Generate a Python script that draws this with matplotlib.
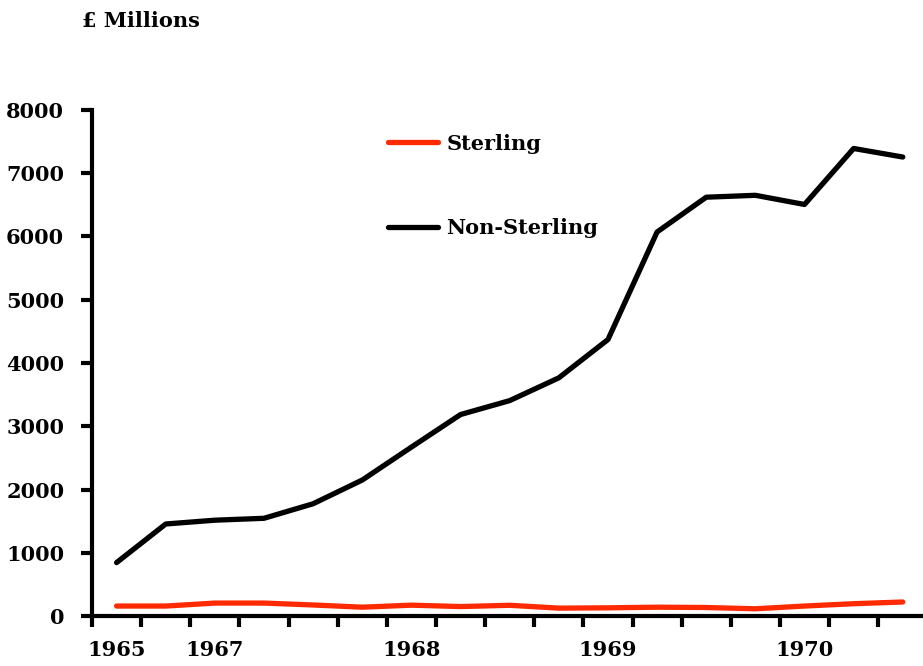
import numpy as np
import matplotlib.pyplot as plt

sterling = [158, 158, 205, 205, 175, 140, 172, 150, 170, 125, 130, 140, 135, 115, 158, 195, 222]
non_sterling = [845, 1455, 1515, 1545, 1775, 2150, 2670, 3185, 3405, 3765, 4370, 6070, 6620, 6650, 6505, 7390, 7255]
year_labels = ['1965', '1967', '1968', '1969', '1970']
year_pos = [0, 2, 6, 10, 14]

plt.rcParams['font.family'] = 'DejaVu Serif'
plt.rcParams['font.weight'] = 'bold'

fig = plt.figure(figsize=(9.23, 6.66), dpi=100)
ax = fig.add_axes([0.0997, 0.075, 0.905, 0.76])

x = np.arange(len(non_sterling))
ax.plot(x, sterling, color='#ff2a00', lw=3.8, solid_capstyle='round', label='Sterling')
ax.plot(x, non_sterling, color='black', lw=3.8, solid_capstyle='round', label='Non-Sterling')

ax.set_xlim(-0.5, 16.5)
ax.set_ylim(0, 8000)
ax.set_yticks(np.arange(0, 8001, 1000))

# ticks between quarters, year labels under the quarter
ax.set_xticks(np.arange(-0.5, 16, 1))
ax.set_xticklabels([])
ax.set_xticks(year_pos, minor=True)
ax.set_xticklabels(year_labels, minor=True)
ax.tick_params(axis='x', which='minor', length=0, pad=17, labelsize=15)
ax.tick_params(axis='x', which='major', length=8, width=3, direction='out')
ax.tick_params(axis='y', length=8, width=3, direction='out', pad=12, labelsize=15)

for side in ['top', 'right']:
    ax.spines[side].set_visible(False)
for side in ['left', 'bottom']:
    ax.spines[side].set_linewidth(3)

leg = ax.legend(loc='upper left', bbox_to_anchor=(0.332, 0.99), frameon=False,
                fontsize=15, handlelength=2.4, labelspacing=3.1, handletextpad=0.4)

fig.text(0.089, 0.968, '£ Millions', fontsize=15, fontweight='bold', va='center')

plt.savefig('out.png')
